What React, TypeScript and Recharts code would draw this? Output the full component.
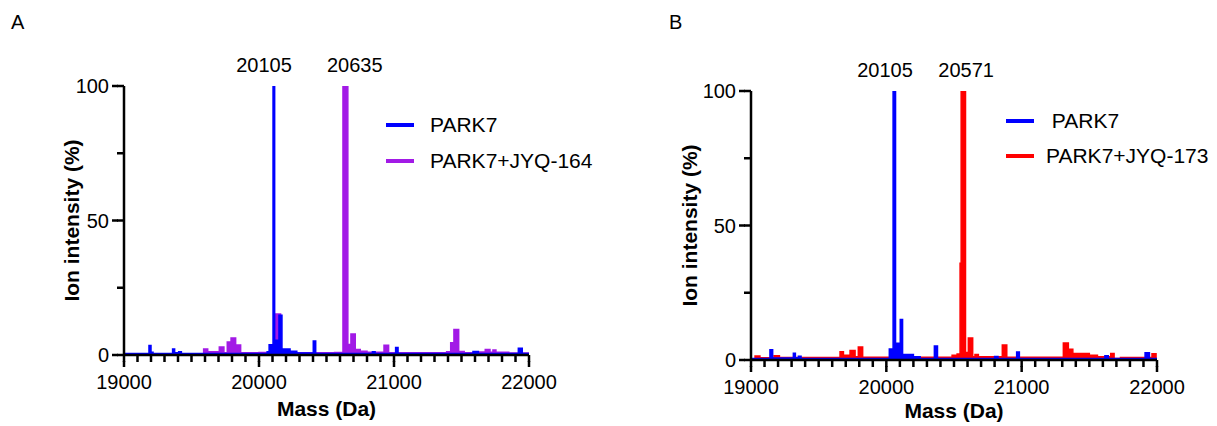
import React from "react";
import { ComposedChart, Area, XAxis, YAxis, ReferenceDot, Legend } from "recharts";

// step spectra: each mass starts a level that holds until the next mass
const aParkMass = [19000, 19185, 19200, 19215, 19360, 19375, 19405, 19425, 20060, 20075, 20104, 20116, 20148, 20170, 20230, 20280, 20402, 20420, 20840, 20860, 21012, 21030, 21585, 21625, 21921, 21950, 22000];
const aParkInt = [0.6, 3.5, 1.0, 0.6, 2.2, 0.8, 1.2, 0.6, 1.2, 3.8, 100, 5.5, 14.8, 2.2, 1.4, 0.7, 5.2, 0.6, 1.2, 0.6, 2.8, 0.6, 1.3, 0.6, 2.5, 0.6, 0.6];

const aJyqMass = [19000, 19590, 19620, 19706, 19740, 19765, 19793, 19827, 19864, 20000, 20050, 20123, 20160, 20200, 20560, 20622, 20658, 20681, 20713, 20750, 20800, 20926, 20960, 21390, 21420, 21444, 21479, 21520, 21600, 21676, 21711, 21733, 21755, 21850, 22000];
const aJyqInt = [0.4, 2.2, 1.2, 3.0, 0.8, 4.8, 6.3, 3.7, 0.8, 0.9, 0.7, 15.2, 1.5, 0.8, 0.9, 100, 3.9, 7.8, 2.0, 1.4, 1.0, 3.6, 0.8, 1.2, 4.6, 9.5, 1.3, 0.8, 1.1, 2.0, 1.0, 1.9, 1.0, 0.7, 0.7];

const bParkMass = [19000, 19140, 19160, 19313, 19328, 19350, 19370, 20022, 20050, 20068, 20103, 20120, 20200, 20250, 20355, 20378, 20800, 20825, 20963, 20983, 21615, 21640, 21912, 21944, 22000];
const bParkInt = [0.6, 3.8, 0.7, 2.5, 0.8, 1.4, 0.6, 4.1, 100, 6.2, 15.1, 2.0, 1.2, 0.6, 5.2, 0.6, 1.3, 0.6, 3.0, 0.6, 1.6, 0.6, 2.7, 0.6, 0.6];

const bJyqMass = [19000, 19030, 19066, 19170, 19210, 19658, 19683, 19732, 19769, 19793, 19825, 20486, 20523, 20545, 20553, 20585, 20606, 20638, 20655, 20680, 20857, 20890, 21308, 21345, 21378, 21500, 21560, 21658, 21683, 21730, 21963, 21993, 22000];
const bJyqInt = [0.5, 1.5, 0.8, 1.6, 0.9, 3.1, 1.8, 3.5, 1.2, 4.8, 1.0, 1.8, 2.2, 36, 100, 2.8, 8.2, 1.2, 2.0, 1.2, 5.6, 1.0, 6.3, 4.0, 2.4, 1.8, 1.2, 2.4, 0.6, 0.9, 2.3, 0.6, 0.6];

const massTicks = [19000, 19100, 19200, 19300, 19400, 19500, 19600, 19700, 19800, 19900, 20000, 20100, 20200, 20300, 20400, 20500, 20600, 20700, 20800, 20900, 21000, 21100, 21200, 21300, 21400, 21500, 21600, 21700, 21800, 21900, 22000];
const intensityTicks = [0, 25, 50, 75, 100];
const intensityLabels = [0, 50, 100];

const FONT = "'Liberation Sans', Arial, sans-serif";
const MINOR = 7;
const MAJOR_EXTRA = 5;
const TICK_WIDTH = 2.5;

function holdAt(masses: number[], values: number[], m: number) {
  let v = values[0];
  for (let i = 0; i < masses.length; i++) {
    if (masses[i] <= m) v = values[i];
  }
  return v;
}

function buildTable(parkMass: number[], parkInt: number[], jyqMass: number[], jyqInt: number[]) {
  const all = Array.from(new Set([...parkMass, ...jyqMass])).sort((a, b) => a - b);
  return all.map((m) => ({
    mass: m,
    park: holdAt(parkMass, parkInt, m),
    jyq: holdAt(jyqMass, jyqInt, m),
  }));
}

// y arrives MINOR px below the axis line (tickSize = MINOR, tickMargin = 0)
const XTick = (props: any) => {
  const { x, y, payload } = props;
  const major = payload.value % 1000 === 0;
  if (!major) return <g />;
  return (
    <g>
      <path d={`M${x},${y - 1}V${y + MAJOR_EXTRA}`} stroke="#000" strokeWidth={TICK_WIDTH} fill="none" />
      <text x={x} y={y + 27} textAnchor="middle" fontSize={20} fontFamily={FONT} fill="#000">
        {payload.value}
      </text>
    </g>
  );
};

const YTick = (props: any) => {
  const { x, y, payload } = props;
  if (!intensityLabels.includes(payload.value)) return <g />;
  return (
    <g>
      <path d={`M${x - MAJOR_EXTRA},${y}H${x + 1}`} stroke="#000" strokeWidth={TICK_WIDTH} fill="none" />
      <text x={x - 8} y={y + 7} textAnchor="end" fontSize={20} fontFamily={FONT} fill="#000">
        {payload.value}
      </text>
    </g>
  );
};

type PanelProps = {
  letter: string;
  letterLeft: number;
  left: number;
  width: number;
  top: number;
  right: number;
  yWidth: number;
  xHeight: number;
  yLabelOffset: number;
  xLabelOffset: number;
  data: any[];
  jyqName: string;
  jyqColor: string;
  parkName: string;
  peaks: { at: number; text: string }[];
  legendLeft: number;
  legendTop: number;
  legendGap: number;
  rowHeight: number;
};

function Panel(p: PanelProps) {
  const legendRows = [
    { name: p.parkName, color: "#0000ff" },
    { name: p.jyqName, color: p.jyqColor },
  ];
  return (
    <div style={{ position: "absolute", left: p.left, top: 0 }}>
      <ComposedChart
        width={p.width}
        height={426}
        data={p.data}
        margin={{ top: p.top, right: p.right, bottom: 5, left: 0 }}
      >
        <XAxis
          dataKey="mass"
          type="number"
          domain={[19000, 22000]}
          ticks={massTicks}
          interval={0}
          tickSize={MINOR}
          tickMargin={0}
          tickLine={{ stroke: "#000", strokeWidth: TICK_WIDTH }}
          tick={<XTick />}
          height={p.xHeight}
          axisLine={{ stroke: "#000", strokeWidth: 2.5 }}
          allowDataOverflow
          label={{
            value: "Mass (Da)",
            position: "insideBottom",
            offset: p.xLabelOffset,
            fontSize: 21,
            fontWeight: "bold",
            fontFamily: FONT,
            fill: "#000",
          }}
        />
        <YAxis
          type="number"
          domain={[0, 100]}
          ticks={intensityTicks}
          interval={0}
          tickSize={MINOR}
          tickMargin={0}
          tickLine={{ stroke: "#000", strokeWidth: TICK_WIDTH }}
          tick={<YTick />}
          width={p.yWidth}
          axisLine={{ stroke: "#000", strokeWidth: 2.5 }}
          allowDataOverflow
          label={{
            value: "Ion intensity (%)",
            angle: -90,
            position: "insideLeft",
            offset: p.yLabelOffset,
            fontSize: 21,
            fontWeight: "bold",
            fontFamily: FONT,
            fill: "#000",
            style: { textAnchor: "middle" },
          }}
        />
        <Area
          type="stepAfter"
          dataKey="jyq"
          name={p.jyqName}
          stroke={p.jyqColor}
          strokeWidth={1.5}
          fill={p.jyqColor}
          fillOpacity={1}
          dot={false}
          activeDot={false}
          isAnimationActive={false}
        />
        <Area
          type="stepAfter"
          dataKey="park"
          name={p.parkName}
          stroke="#0000ff"
          strokeWidth={1.5}
          fill="#0000ff"
          fillOpacity={1}
          dot={false}
          activeDot={false}
          isAnimationActive={false}
        />
        {p.peaks.map((pk) => (
          <ReferenceDot
            key={pk.text}
            x={pk.at}
            y={100}
            r={0}
            stroke="none"
            label={{ value: pk.text, position: "top", offset: 14, fontSize: 20, fontFamily: FONT, fill: "#000" }}
          />
        ))}
        <Legend
          layout="horizontal"
          verticalAlign="middle"
          align="center"
          wrapperStyle={{ left: p.legendLeft, top: p.legendTop, width: "auto", height: "auto" }}
          content={() => (
            <div style={{ fontFamily: FONT }}>
              {legendRows.map((r) => (
                <div
                  key={r.name}
                  style={{ display: "flex", alignItems: "center", height: p.rowHeight }}
                >
                  <span
                    style={{ display: "inline-block", width: 28, height: 4, background: r.color, marginRight: p.legendGap }}
                  />
                  <span style={{ fontSize: 21, color: "#000", whiteSpace: "pre" }}>{r.name}</span>
                </div>
              ))}
            </div>
          )}
        />
      </ComposedChart>
      <div
        style={{
          position: "absolute",
          left: p.letterLeft,
          top: 12,
          fontFamily: FONT,
          fontSize: 20,
          lineHeight: "20px",
          color: "#000",
        }}
      >
        {p.letter}
      </div>
    </div>
  );
}

export default function App() {
  const dataA = buildTable(aParkMass, aParkInt, aJyqMass, aJyqInt);
  const dataB = buildTable(bParkMass, bParkInt, bJyqMass, bJyqInt);
  return (
    <div
      style={{
        position: "absolute",
        left: 0,
        top: 0,
        width: 1217,
        height: 426,
        background: "#fff",
        overflow: "hidden",
      }}
    >
      <Panel
        letter="A"
        letterLeft={11}
        left={0}
        width={610}
        top={86}
        right={81}
        yWidth={124}
        xHeight={66}
        yLabelOffset={72}
        xLabelOffset={5}
        data={dataA}
        jyqName="PARK7+JYQ-164"
        jyqColor="#a21ae6"
        parkName="PARK7"
        peaks={[
          { at: 20037, text: "20105" },
          { at: 20709, text: "20635" },
        ]}
        legendLeft={386}
        legendTop={107}
        legendGap={16}
        rowHeight={36}
      />
      <Panel
        letter="B"
        letterLeft={59}
        left={610}
        width={607}
        top={91}
        right={60}
        yWidth={141}
        xHeight={61}
        yLabelOffset={80}
        xLabelOffset={3}
        data={dataB}
        jyqName="PARK7+JYQ-173"
        jyqColor="#ff0000"
        parkName=" PARK7"
        peaks={[
          { at: 19990, text: "20105" },
          { at: 20590, text: "20571" },
        ]}
        legendLeft={396}
        legendTop={103}
        legendGap={12}
        rowHeight={35}
      />
    </div>
  );
}
